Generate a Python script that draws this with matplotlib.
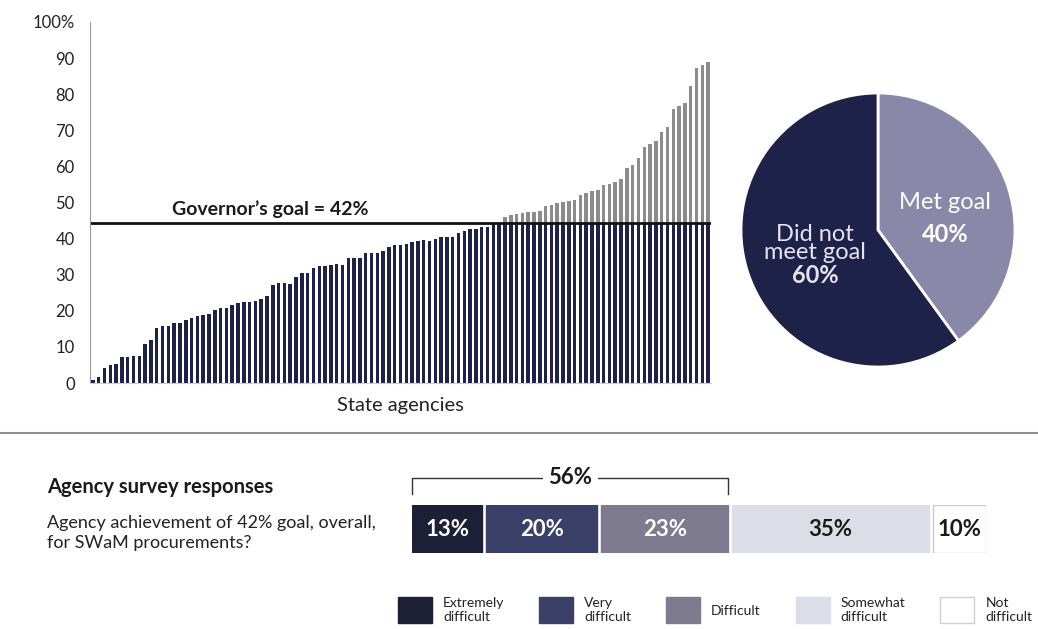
import matplotlib
matplotlib.use('Agg')
import matplotlib.pyplot as plt
import numpy as np
from matplotlib.patches import Patch

plt.rcParams['font.family'] = ['Lato', 'DejaVu Sans']

# agency share of SWaM procurement (%), sorted
agency_pct = [0.8, 1.7, 4.2, 5.0, 5.3, 7.1, 7.1, 7.4, 7.4, 10.8, 11.9, 15.1, 15.8, 15.8, 16.7, 16.7,
              17.5, 17.9, 18.6, 18.9, 19.1,
              20.2, 20.7, 20.9, 21.6, 22.2, 22.5, 22.5, 22.8, 23.3, 24.1, 27.1, 27.6, 27.6, 27.4,
              29.3, 30.4, 30.4, 31.8, 32.4, 32.4, 32.7,
              33.0, 32.7, 34.5, 34.5, 34.5, 35.9, 35.9, 35.9, 36.6, 37.8, 38.2, 38.2, 38.4, 39.0,
              39.4, 39.6, 39.4, 39.9, 40.4, 40.4, 40.4, 41.5,
              42.2, 42.6, 42.6, 43.3, 43.3, 44.0, 44.0, 46.1, 46.5, 46.8, 47.2, 47.5, 47.5, 47.7,
              49.0, 49.3, 49.9, 50.2, 50.4, 50.7,
              52.1, 52.5, 53.2, 53.6, 54.8, 55.1, 55.6, 56.5, 59.5, 60.4, 62.2, 65.5, 66.2, 67.0,
              69.6, 71.0, 75.8, 76.7, 77.5, 82.3, 87.2, 88.1, 89.0]
goal_line = 44.3
yticks = [0, 10, 20, 30, 40, 50, 60, 70, 80, 90, 100]
ytick_labels = ['0', '10', '20', '30', '40', '50', '60', '70', '80', '90', '100%']

pie_labels = ['Met goal', 'Did not\nmeet goal']
pie_values = [40, 60]

survey_labels = ['Extremely\ndifficult', 'Very\ndifficult', 'Difficult', 'Somewhat\ndifficult', 'Not\ndifficult']
survey_values = [13, 20, 23, 35, 10]
survey_colors = ['#1c1f35', '#3b4068', '#7e7b90', '#dcdde7', '#ffffff']
survey_text_colors = ['white', 'white', 'white', '#1a1a1a', '#1a1a1a']

navy = '#1f2248'
gray_bar = '#8c8c8c'
lavender = '#8a88a8'

W, H = 1038, 629
fig = plt.figure(figsize=(W / 100, H / 100), dpi=100)


def px_axes(x0, y0, x1, y1):
    # pixel box (top-left origin) -> figure axes
    return fig.add_axes([x0 / W, 1 - y1 / H, (x1 - x0) / W, (y1 - y0) / H])


# ---- bar chart of agencies ----
ax = px_axes(90, 22, 711, 383)
vals = np.array(agency_pct)
x = np.arange(len(vals))
below = np.minimum(vals, goal_line)
above = np.clip(vals - goal_line, 0, None)
ax.bar(x, below, width=0.6, color=navy)
ax.bar(x, above, bottom=below, width=0.6, color=gray_bar)
ax.axhline(goal_line, color='#111111', lw=2)
ax.text(0.29, goal_line + 1.3, 'Governor\u2019s goal = 42%', transform=ax.get_yaxis_transform(),
        ha='center', va='bottom', fontsize=14, fontweight='bold', color='#1a1a1a')
ax.set_xlim(-0.5, len(vals) - 0.5)
ax.set_ylim(0, 100)
ax.set_yticks(yticks)
ax.set_yticklabels(ytick_labels)
ax.tick_params(axis='y', length=0, pad=11, labelsize=12, labelcolor='#222222')
ax.set_xticks([])
ax.set_xlabel('State agencies', fontsize=14.5, color='#222222', labelpad=10)
for s in ['top', 'right']:
    ax.spines[s].set_visible(False)
ax.spines['left'].set_color('#999999')
ax.spines['bottom'].set_color('#cccccc')

# ---- pie ----
axp = px_axes(741, 93, 1015, 367)
axp.pie(pie_values, colors=[lavender, navy], startangle=90, counterclock=False,
        wedgeprops=dict(edgecolor='white', linewidth=2))
axp.set_xlim(-1, 1)
axp.set_ylim(-1, 1)
axp.text(0.49, 0.2, pie_labels[0], ha='center', va='center', color='white', fontsize=17)
axp.text(0.49, -0.03, f'{pie_values[0]}%', ha='center', va='center', color='white',
         fontsize=17, fontweight='bold')
axp.text(-0.46, -0.1, pie_labels[1], ha='center', va='center', color='#e4e4ee', fontsize=17,
         linespacing=0.85)
axp.text(-0.46, -0.33, f'{pie_values[1]}%', ha='center', va='center', color='#e4e4ee',
         fontsize=17, fontweight='bold')

# ---- separator ----
fig.add_artist(plt.Line2D([0, 1], [1 - 433 / H, 1 - 433 / H], color='#8f8f8f', lw=1.5))

# ---- survey section ----
fig.text(47 / W, 1 - 487 / H, 'Agency survey responses', fontsize=14.5, fontweight='bold',
         va='center', color='#1a1a1a')
fig.text(47 / W, 1 - 533 / H, 'Agency achievement of 42% goal, overall,\nfor SWaM procurements?',
         fontsize=13, va='center', color='#222222', linespacing=1.25)

axs = px_axes(412, 505, 986, 553)
total = sum(survey_values)
gap = 0.7
lefts = np.concatenate([[0], np.cumsum(survey_values)[:-1]])
for v, l, c, tc in zip(survey_values, lefts, survey_colors, survey_text_colors):
    axs.barh(0, v - gap, left=l, height=1, color=c,
             edgecolor='#c8c8c8' if c == '#ffffff' else c, linewidth=1)
    axs.text(l + (v - gap) / 2, 0, f'{v}%', ha='center', va='center', color=tc,
             fontsize=16, fontweight='bold')
axs.set_xlim(0, total - gap)
axs.set_ylim(-0.5, 0.5)
axs.axis('off')

# bracket over the "difficult" share
hard = sum(survey_values[:3])
tr = axs.get_xaxis_transform()
axs.plot([0, 0, hard - gap, hard - gap], [1.22, 1.56, 1.56, 1.22], transform=tr,
         color='#333333', lw=1, clip_on=False)
axs.text((hard - gap) / 2, 1.58, f'{hard}%', transform=tr, ha='center', va='center',
         fontsize=16, fontweight='bold', color='#1a1a1a',
         bbox=dict(facecolor='white', edgecolor='none', pad=4))

handles = [Patch(facecolor=c, edgecolor='#d0d0d0' if c == '#ffffff' else c) for c in survey_colors]
fig.legend(handles, survey_labels, loc='center left', bbox_to_anchor=(398 / W, 1 - 610 / H),
           ncol=5, frameon=False, fontsize=10, handlelength=2.45, handleheight=2.5,
           handletextpad=0.8, columnspacing=2.5, borderpad=0, borderaxespad=0,
           labelcolor='#222222')

fig.savefig('out.png', dpi=100)
